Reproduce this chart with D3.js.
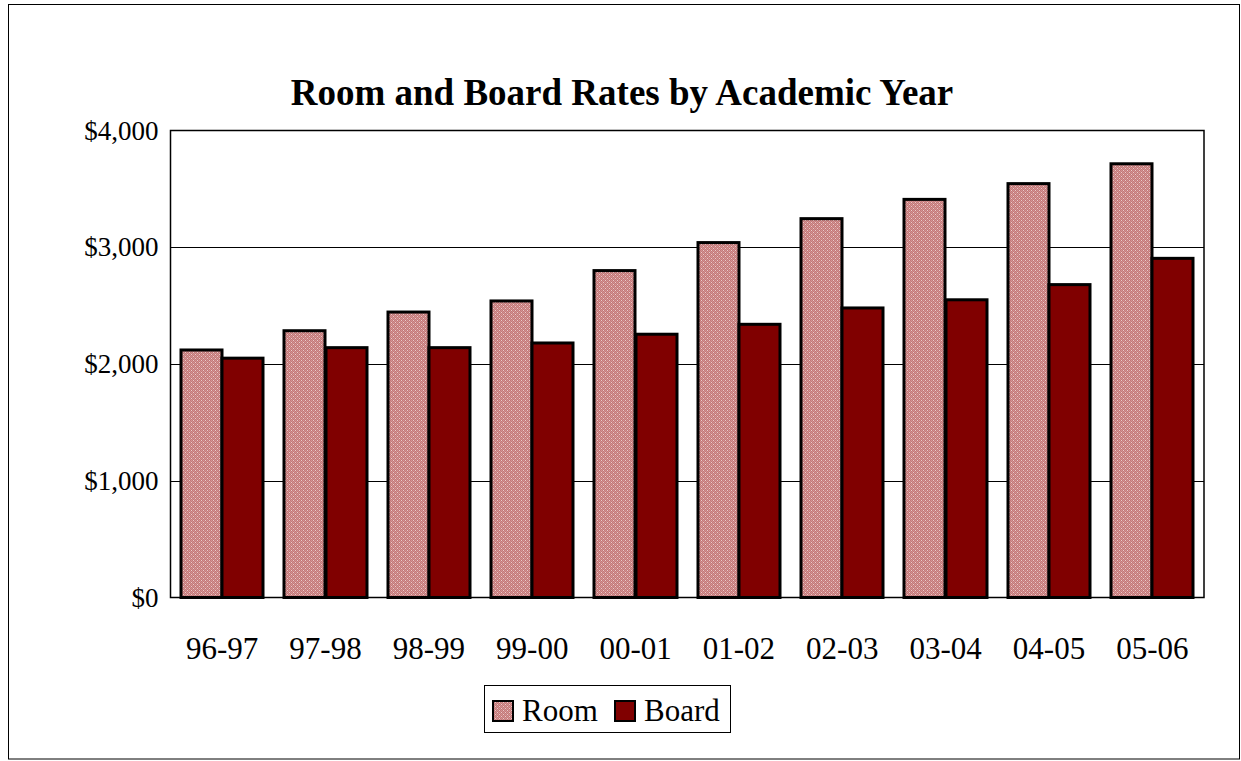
<!DOCTYPE html>
<html>
<head>
<meta charset="utf-8">
<script src="https://cdn.jsdelivr.net/npm/d3@7"></script>
<style>
  body { margin: 0; background: #fff; }
  text { font-family: "Liberation Serif", "Times New Roman", serif; fill: #000; }
</style>
</head>
<body>
<script>
var YEARS = ["96-97", "97-98", "98-99", "99-00", "00-01", "01-02", "02-03", "03-04", "04-05", "05-06"];
var ROOM  = [2120, 2285, 2445, 2540, 2800, 3040, 3245, 3410, 3545, 3715];
var BOARD = [2050, 2140, 2140, 2180, 2255, 2340, 2480, 2550, 2680, 2905];
var SERIES = ["Room", "Board"];
var Y_TICKS = [0, 1000, 2000, 3000, 4000];

var W = 1241, H = 761;
var PL = 170.5, PR = 1204, PT = 130.5, PB = 597.5;

var svg = d3.select("body").append("svg")
    .attr("width", W)
    .attr("height", H);

// fine checker for the Room bars, anchored to the page so every bar has the same phase
var defs = svg.append("defs");
var pat = defs.append("pattern")
    .attr("id", "check")
    .attr("width", 4).attr("height", 4)
    .attr("patternUnits", "userSpaceOnUse");
pat.append("rect").attr("width", 4).attr("height", 4).attr("fill", "#d29494");
[[0, 0], [2, 0], [1, 1], [3, 1], [0, 2], [2, 2], [1, 3], [3, 3]].forEach(function (p) {
    pat.append("rect").attr("x", p[0]).attr("y", p[1]).attr("width", 1).attr("height", 1).attr("fill", "#c47878");
});
[[1, 0], [3, 2]].forEach(function (p) {
    pat.append("rect").attr("x", p[0]).attr("y", p[1]).attr("width", 1).attr("height", 1).attr("fill", "#ebcaca");
});

var fills = { Room: "url(#check)", Board: "#800000" };

// outer frame
svg.append("rect")
    .attr("x", 8.5).attr("y", 4.5)
    .attr("width", 1231).attr("height", 754.5)
    .attr("fill", "none").attr("stroke", "#000").attr("stroke-width", 1);

svg.append("text")
    .attr("x", 622).attr("y", 105)
    .attr("text-anchor", "middle")
    .attr("font-size", 37).attr("font-weight", "bold")
    .text("Room and Board Rates by Academic Year");

var x = d3.scaleBand().domain(YEARS).range([PL, PR]);
var xs = d3.scaleBand().domain(SERIES)
    .range([x.bandwidth() * 0.1, x.bandwidth() * 0.9]);
var y = d3.scaleLinear().domain([0, 4000]).range([PB, PT]);

// gridlines
svg.append("g").selectAll("line")
    .data(Y_TICKS.slice(1, -1))
    .join("line")
    .attr("x1", PL).attr("x2", PR)
    .attr("y1", function (d) { return Math.round(y(d)) + 0.5; })
    .attr("y2", function (d) { return Math.round(y(d)) + 0.5; })
    .attr("stroke", "#000").attr("stroke-width", 1);

// bars
var bars = [];
YEARS.forEach(function (yr, i) {
    bars.push({ yr: yr, s: "Room", v: ROOM[i] });
    bars.push({ yr: yr, s: "Board", v: BOARD[i] });
});
svg.append("g").selectAll("rect")
    .data(bars)
    .join("rect")
    .attr("x", function (d) { return Math.round(x(d.yr) + xs(d.s)); })
    .attr("y", function (d) { return y(d.v); })
    .attr("width", Math.round(xs.bandwidth()))
    .attr("height", function (d) { return PB - y(d.v); })
    .attr("fill", function (d) { return fills[d.s]; })
    .attr("stroke", "#000").attr("stroke-width", 3);

// plot area border
svg.append("rect")
    .attr("x", PL).attr("y", PT)
    .attr("width", PR - PL).attr("height", PB - PT)
    .attr("fill", "none").attr("stroke", "#000").attr("stroke-width", 1.5);

// y axis labels
var yAxis = d3.axisLeft(y).tickValues(Y_TICKS).tickSize(0).tickPadding(12)
    .tickFormat(function (d) { return "$" + d3.format(",")(d); });
svg.append("g")
    .attr("transform", "translate(" + PL + ",0)")
    .call(yAxis)
    .call(function (g) { g.select(".domain").remove(); })
    .selectAll("text")
    .attr("font-family", "Liberation Serif, Times New Roman, serif")
    .attr("font-size", 27).attr("fill", "#000");

// x axis labels
var xAxis = d3.axisBottom(x).tickSize(0).tickPadding(39);
svg.append("g")
    .attr("transform", "translate(0," + PB + ")")
    .call(xAxis)
    .call(function (g) { g.select(".domain").remove(); })
    .selectAll("text")
    .attr("font-family", "Liberation Serif, Times New Roman, serif")
    .attr("font-size", 31).attr("fill", "#000");

// legend
var lg = svg.append("g");
lg.append("rect")
    .attr("x", 484.5).attr("y", 685.5)
    .attr("width", 246).attr("height", 47)
    .attr("fill", "#fff").attr("stroke", "#000").attr("stroke-width", 1);
var lx = [493, 615];
SERIES.forEach(function (s, i) {
    lg.append("rect")
        .attr("x", lx[i]).attr("y", 701)
        .attr("width", 20).attr("height", 20)
        .attr("fill", fills[s])
        .attr("stroke", "#000").attr("stroke-width", 2);
    lg.append("text")
        .attr("x", lx[i] + 29).attr("y", 721)
        .attr("font-size", 31)
        .text(s);
});
</script>
</body>
</html>
